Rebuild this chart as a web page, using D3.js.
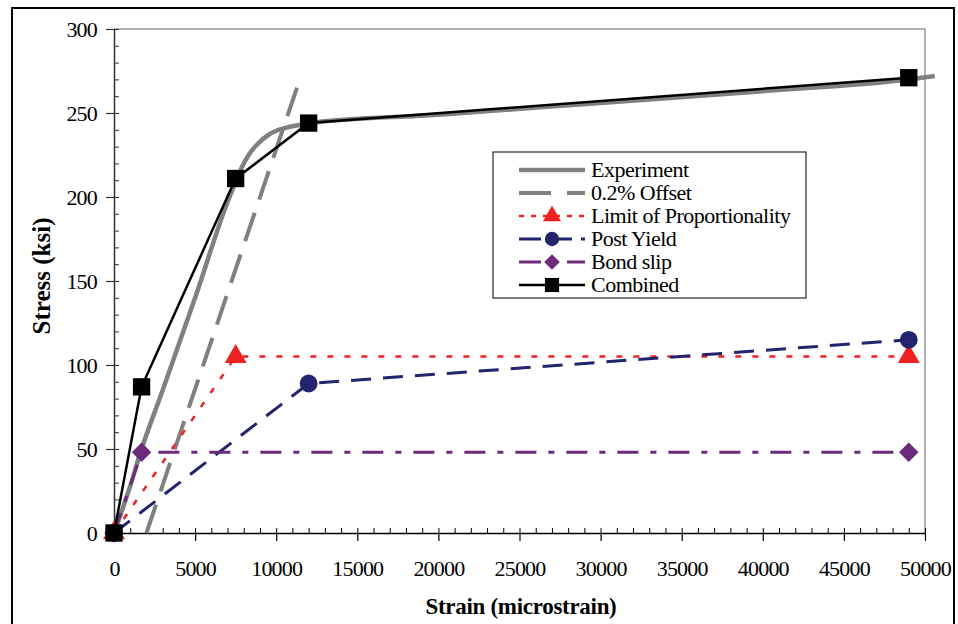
<!DOCTYPE html>
<html>
<head>
<meta charset="utf-8">
<script src="https://cdn.jsdelivr.net/npm/d3@7"></script>
<style>
  body { margin: 0; background: #fff; }
  svg { display: block; }
  text { font-family: "Times New Roman", serif; }
</style>
</head>
<body>
<svg width="958" height="624"></svg>
<script>
// measured curve
var expStrain = [0, 1000, 1600, 3000, 5000, 7000, 7500, 7900, 8300, 8800, 9600, 10500, 11500, 12000, 20000, 30000, 40000, 49000, 50600];
var expStress = [0, 28, 47, 85, 140, 197, 209, 218, 225, 231, 237.5, 241, 243, 244, 249, 256, 263, 270, 272];

var offsetStrain = [2000, 11350];
var offsetStress = [0, 267];

var lopStrain = [0, 7500, 49000];
var lopStress = [0, 105, 105];

var postStrain = [0, 12000, 49000];
var postStress = [0, 89, 115];

var bondStrain = [0, 1700, 49000];
var bondStress = [0, 48, 48];

var combStrain = [0, 1700, 7500, 12000, 49000];
var combStress = [0, 87, 211, 244, 271];

var xTicks = [0, 5000, 10000, 15000, 20000, 25000, 30000, 35000, 40000, 45000, 50000];
var yTicks = [0, 50, 100, 150, 200, 250, 300];

var legendNames = ["Experiment", "0.2% Offset", "Limit of Proportionality", "Post Yield", "Bond slip", "Combined"];

var FONT = "Times New Roman";
var svg = d3.select("svg");

// outer frame
svg.append("rect")
    .attr("x", 12).attr("y", 8)
    .attr("width", 942).attr("height", 700)
    .attr("fill", "none").attr("stroke", "#000").attr("stroke-width", 2);

var x = d3.scaleLinear().domain([0, 50000]).range([114, 925]);
var y = d3.scaleLinear().domain([0, 300]).range([533, 29]);

// plot frame top / right (grey)
svg.append("path")
    .attr("d", "M" + x(0) + "," + y(300) + "H" + x(50000) + "V" + y(0))
    .attr("fill", "none").attr("stroke", "#999").attr("stroke-width", 1.5);

// x axis: minor ticks inward, major ticks through
svg.append("g")
    .attr("transform", "translate(0," + y(0) + ")")
    .call(d3.axisTop(x).tickValues(d3.range(0, 50001, 1000)).tickSize(5).tickFormat(""))
    .call(function (g) { g.select(".domain").remove(); g.selectAll("line").attr("stroke", "#000"); });

var xAxis = svg.append("g")
    .attr("transform", "translate(0," + y(0) + ")")
    .call(d3.axisBottom(x).tickValues(xTicks).tickSizeInner(8).tickSizeOuter(0).tickPadding(19).tickFormat(d3.format("d")));
xAxis.select(".domain").attr("stroke", "#000").attr("stroke-width", 1.5);
xAxis.selectAll("line").attr("stroke", "#000").attr("stroke-width", 1.2);
xAxis.selectAll("text").attr("font-size", 22).attr("fill", "#000")
    .attr("font-family", FONT).attr("letter-spacing", "-0.8");

svg.append("g")
    .attr("transform", "translate(" + x(0) + ",0)")
    .call(d3.axisRight(y).tickValues(d3.range(0, 301, 10)).tickSize(5).tickFormat(""))
    .call(function (g) { g.select(".domain").remove(); g.selectAll("line").attr("stroke", "#333"); });

var yAxis = svg.append("g")
    .attr("transform", "translate(" + x(0) + ",0)")
    .call(d3.axisLeft(y).tickValues(yTicks).tickSizeInner(8).tickSizeOuter(0).tickPadding(9));
yAxis.select(".domain").attr("stroke", "#333").attr("stroke-width", 1.5);
yAxis.selectAll("line").attr("stroke", "#333").attr("stroke-width", 1.2);
yAxis.selectAll("text").attr("font-size", 22).attr("fill", "#000")
    .attr("font-family", FONT).attr("letter-spacing", "-0.8");

// axis titles
svg.append("text")
    .attr("x", 521).attr("y", 614)
    .attr("text-anchor", "middle")
    .attr("font-family", FONT)
    .attr("font-size", 23).attr("font-weight", "bold").attr("letter-spacing", "-0.3")
    .text("Strain (microstrain)");

svg.append("text")
    .attr("transform", "translate(50,276) rotate(-90)")
    .attr("text-anchor", "middle")
    .attr("font-family", FONT)
    .attr("font-size", 25).attr("font-weight", "bold")
    .text("Stress (ksi)");

function pts(xs, ys) { return xs.map(function (v, i) { return [v, ys[i]]; }); }

var line = d3.line().x(function (d) { return x(d[0]); }).y(function (d) { return y(d[1]); });
var curve = d3.line().curve(d3.curveMonotoneX).x(function (d) { return x(d[0]); }).y(function (d) { return y(d[1]); });

var series = [
    { name: legendNames[0], data: pts(expStrain, expStress), color: "#808080", width: 4.5, dash: null, lgDash: null, gen: curve, marker: null },
    { name: legendNames[1], data: pts(offsetStrain, offsetStress), color: "#808080", width: 4, dash: "30,14", lgDash: "32,16", gen: line, marker: null },
    { name: legendNames[2], data: pts(lopStrain, lopStress), color: "#ee2222", width: 2.5, dash: "6,11", lgDash: "5,7", gen: line, marker: "triangle" },
    { name: legendNames[3], data: pts(postStrain, postStress), color: "#23236e", width: 3, dash: "20,12", lgDash: "22,9", gen: line, marker: "circle" },
    { name: legendNames[4], data: pts(bondStrain, bondStress), color: "#6b2a7a", width: 3, dash: "21,12,6,12", lgDash: "22,9,8,9", gen: line, marker: "diamond" },
    { name: legendNames[5], data: pts(combStrain, combStress), color: "#000", width: 2.5, dash: null, lgDash: null, gen: line, marker: "square" }
];

var symbols = {
    triangle: d3.symbolTriangle,
    circle: d3.symbolCircle,
    diamond: d3.symbolSquare,
    square: d3.symbolSquare
};
var sizes = { triangle: 210, circle: 250, diamond: 190, square: 300 };
var legendSizes = { triangle: 140, circle: 160, diamond: 120, square: 200 };

function markerAt(px, py, m) {
    return "translate(" + px + "," + py + ")" + (m === "diamond" ? " rotate(45)" : "");
}

series.forEach(function (s) {
    svg.append("path")
        .attr("d", s.gen(s.data))
        .attr("fill", "none")
        .attr("stroke", s.color)
        .attr("stroke-width", s.width)
        .attr("stroke-dasharray", s.dash);
    if (s.marker) {
        svg.selectAll(null)
            .data(s.data)
            .enter()
            .append("path")
            .attr("transform", function (d) { return markerAt(x(d[0]), y(d[1]), s.marker); })
            .attr("d", d3.symbol().type(symbols[s.marker]).size(sizes[s.marker]))
            .attr("fill", s.color);
    }
});

// legend
var lg = svg.append("g");
lg.append("rect")
    .attr("x", 493).attr("y", 152)
    .attr("width", 313).attr("height", 146)
    .attr("fill", "#fff").attr("stroke", "#000").attr("stroke-width", 1);

series.forEach(function (s, i) {
    var cy = 170 + i * 23;
    lg.append("line")
        .attr("x1", 519).attr("x2", 585)
        .attr("y1", cy).attr("y2", cy)
        .attr("stroke", s.color)
        .attr("stroke-width", s.width)
        .attr("stroke-dasharray", s.lgDash);
    if (s.marker) {
        lg.append("path")
            .attr("transform", markerAt(552, cy, s.marker))
            .attr("d", d3.symbol().type(symbols[s.marker]).size(legendSizes[s.marker]))
            .attr("fill", s.color);
    }
    lg.append("text")
        .attr("x", 591).attr("y", cy + 7)
        .attr("font-family", FONT)
        .attr("font-size", 22).attr("letter-spacing", "-0.5")
        .text(s.name);
});
</script>
</body>
</html>
